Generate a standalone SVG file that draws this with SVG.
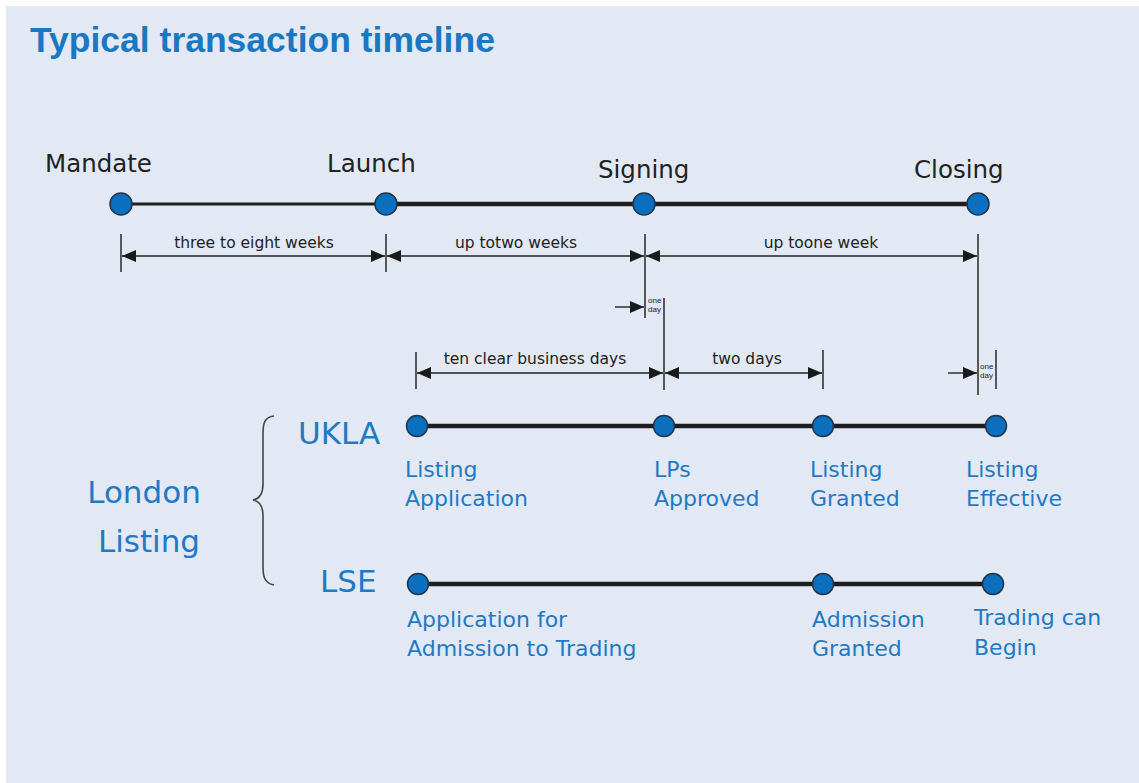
<svg xmlns="http://www.w3.org/2000/svg" width="1139" height="783" viewBox="0 0 1139 783">
<style>
.bg{fill:#e2e8f4}
.title{font-family:"Liberation Sans",Arial,sans-serif;font-weight:bold;font-size:35.5px;fill:#1a78c2}
.ms{font-family:"DejaVu Sans","Liberation Sans",sans-serif;font-size:24.5px;fill:#222}
.dim{font-family:"DejaVu Sans","Liberation Sans",sans-serif;font-size:15.5px;fill:#222}
.tiny{font-family:"Liberation Sans",sans-serif;font-size:8px;fill:#222}
.lab{font-family:"DejaVu Sans","Liberation Sans",sans-serif;font-size:22px;fill:#1f7ac4}
.big{font-family:"DejaVu Sans","Liberation Sans",sans-serif;font-size:31px;fill:#1f7ac4}
.dot{fill:#0a6fbe;stroke:#23344a;stroke-width:1.5}
.tl{stroke:#1e1e1e;stroke-width:4.5;fill:none}
.ext{stroke:#333;stroke-width:1.6;fill:none}
.arr{stroke:#222;stroke-width:1.4;fill:none;marker-start:url(#a);marker-end:url(#a)}
.arr1{stroke:#222;stroke-width:1.4;fill:none;marker-end:url(#a)}
</style>
<defs>
<marker id="a" viewBox="0 0 10 10" refX="10" refY="5" markerWidth="14" markerHeight="12" markerUnits="userSpaceOnUse" orient="auto-start-reverse" preserveAspectRatio="none">
<path d="M0,0 L10,5 L0,10 Z" fill="#1a1a1a"/>
</marker>
</defs>
<rect x="0" y="0" width="1139" height="783" fill="#fff"/>
<rect class="bg" x="6" y="6" width="1133" height="777"/>
<text class="title" x="30" y="52">Typical transaction timeline</text>

<g id="connectors">
<line x1="121" y1="204" x2="386" y2="204" stroke="#1e1e1e" stroke-width="3.2"/>
<line class="tl" x1="386" y1="204" x2="978" y2="204"/>
<line class="tl" x1="417" y1="426" x2="996" y2="426"/>
<line class="tl" x1="418" y1="584" x2="993" y2="584"/>
<line class="ext" x1="121" y1="234" x2="121" y2="272"/>
<line class="ext" x1="386" y1="234" x2="386" y2="272"/>
<line class="ext" x1="645" y1="234" x2="645" y2="318"/>
<line class="ext" x1="978" y1="234" x2="978" y2="395"/>
<line class="arr" x1="122" y1="256" x2="385" y2="256"/>
<line class="arr" x1="387" y1="256" x2="644" y2="256"/>
<line class="arr" x1="646" y1="256" x2="977" y2="256"/>
<line class="ext" x1="664" y1="298" x2="664" y2="390"/>
<line class="arr1" x1="615" y1="307" x2="644" y2="307"/>
<line class="ext" x1="996" y1="350" x2="996" y2="389"/>
<line class="arr1" x1="948" y1="373" x2="977" y2="373"/>
<line class="ext" x1="416" y1="352" x2="416" y2="389"/>
<line class="ext" x1="823" y1="350" x2="823" y2="389"/>
<line class="arr" x1="417" y1="373" x2="663" y2="373"/>
<line class="arr" x1="665" y1="373" x2="822" y2="373"/>
<path d="M274,416 C264,417 263,424 263,434 L263,484 C263,495 259,499 253,500 C259,501 263,505 263,516 L263,566 C263,576 264,583 274,585" fill="none" stroke="#444" stroke-width="1.6"/>
</g>

<g id="dim-labels">
<text class="dim" x="254" y="248" text-anchor="middle">three to eight weeks</text>
<text class="dim" x="516" y="248" text-anchor="middle">up totwo weeks</text>
<text class="dim" x="821" y="248" text-anchor="middle">up toone week</text>
<text class="dim" x="535" y="364" text-anchor="middle">ten clear business days</text>
<text class="dim" x="747" y="364" text-anchor="middle">two days</text>
<text class="tiny" x="648" y="303">one</text>
<text class="tiny" x="648" y="312">day</text>
<text class="tiny" x="980" y="369">one</text>
<text class="tiny" x="980" y="378">day</text>
</g>

<g id="mandate"><circle class="dot" cx="121" cy="204" r="11"/><text class="ms" x="45" y="172">Mandate</text></g>
<g id="launch"><circle class="dot" cx="386" cy="204" r="11"/><text class="ms" x="327" y="172">Launch</text></g>
<g id="signing"><circle class="dot" cx="644" cy="204" r="11"/><text class="ms" x="598" y="178">Signing</text></g>
<g id="closing"><circle class="dot" cx="978" cy="204" r="11"/><text class="ms" x="914" y="178">Closing</text></g>

<g id="london-listing"><text class="big" x="144" y="503" text-anchor="middle">London</text><text class="big" x="149" y="552" text-anchor="middle">Listing</text></g>
<g id="ukla"><text class="big" x="298" y="444">UKLA</text></g>
<g id="lse"><text class="big" x="320" y="592">LSE</text></g>

<g id="listing-application"><circle class="dot" cx="417" cy="426" r="10.5"/><text class="lab" x="405" y="477">Listing</text><text class="lab" x="405" y="506">Application</text></g>
<g id="lps-approved"><circle class="dot" cx="664" cy="426" r="10.5"/><text class="lab" x="654" y="477">LPs</text><text class="lab" x="654" y="506">Approved</text></g>
<g id="listing-granted"><circle class="dot" cx="823" cy="426" r="10.5"/><text class="lab" x="810" y="477">Listing</text><text class="lab" x="810" y="506">Granted</text></g>
<g id="listing-effective"><circle class="dot" cx="996" cy="426" r="10.5"/><text class="lab" x="966" y="477">Listing</text><text class="lab" x="966" y="506">Effective</text></g>

<g id="application-admission"><circle class="dot" cx="418" cy="584" r="10.5"/><text class="lab" x="407" y="627">Application for</text><text class="lab" x="407" y="656">Admission to Trading</text></g>
<g id="admission-granted"><circle class="dot" cx="823" cy="584" r="10.5"/><text class="lab" x="812" y="627">Admission</text><text class="lab" x="812" y="656">Granted</text></g>
<g id="trading-begin"><circle class="dot" cx="993" cy="584" r="10.5"/><text class="lab" x="974" y="625">Trading can</text><text class="lab" x="974" y="655">Begin</text></g>
</svg>
